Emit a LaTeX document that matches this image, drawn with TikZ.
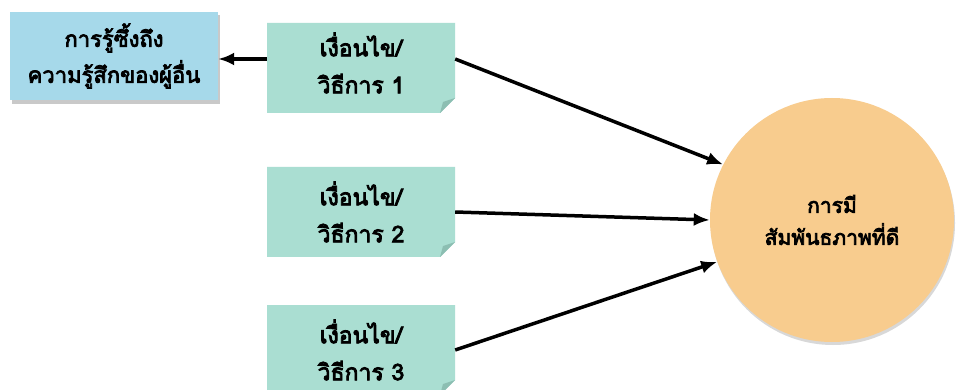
\documentclass[tikz,border=0pt]{standalone}
\usepackage{fontspec}
\newfontfamily\thaifont[Script=Thai,FakeBold=3.5]{Loma}
\usetikzlibrary{arrows.meta,shadows}
\definecolor{bluebox}{RGB}{166,217,234}
\definecolor{greenbox}{RGB}{170,222,210}
\definecolor{greenfold}{RGB}{140,190,178}
\definecolor{orangec}{RGB}{248,204,142}
\tikzset{
  txt/.style={font=\thaifont\fontsize{23}{37}\selectfont, align=center, text=black},
  conn/.style={line width=3.5pt, -{Latex[length=16pt,width=13pt]}},
}
\begin{document}
\begin{tikzpicture}[x=1pt,y=-1pt]
\useasboundingbox (0,0) rectangle (956,390);
\fill[white] (0,0) rectangle (956,390);
% blue box
\fill[black!35, opacity=0.6] (12,15) rectangle (220,104);
\node[fill=bluebox, minimum width=208pt, minimum height=88pt, inner sep=0pt, txt, font=\thaifont\fontsize{22}{36}\selectfont] (b) at (114,56) {การรู้ซึ้งถึง\\ความรู้สึกของผู้อื่น};
% green boxes
\foreach \n/\y/\ty/\t in {g1/68/63/1, g2/212/212/2, g3/350/350/3}{
  \fill[greenbox] (267,\y-45) -- (455,\y-45) -- (455,\y+30) -- (440,\y+45) -- (267,\y+45) -- cycle;
  \fill[greenfold] (455,\y+30) -- (440,\y+45) -- (443,\y+34) -- cycle;
  \node[minimum width=188pt, minimum height=82pt, inner sep=0pt, txt] (\n) at (361,\ty) {เงื่อนไข/\\วิธีการ \t};
}
% circle
\fill[black!30, opacity=0.5] (833,223) circle (122);
\node[circle, fill=orangec, minimum size=244pt, inner sep=0pt, txt, font=\thaifont\fontsize{21}{32}\selectfont] (c) at (832,220) {การมี\\สัมพันธภาพที่ดี};
% connectors
\draw[conn] ([yshift=4pt]g1.west) -- ([yshift=4pt]g1.west -| b.east);
\draw[conn] ([yshift=4pt]g1.east) -- (c.153);
\draw[conn] (g2.east) -- (c.180);
\draw[conn] (g3.east) -- (c.200);
\end{tikzpicture}
\end{document}
